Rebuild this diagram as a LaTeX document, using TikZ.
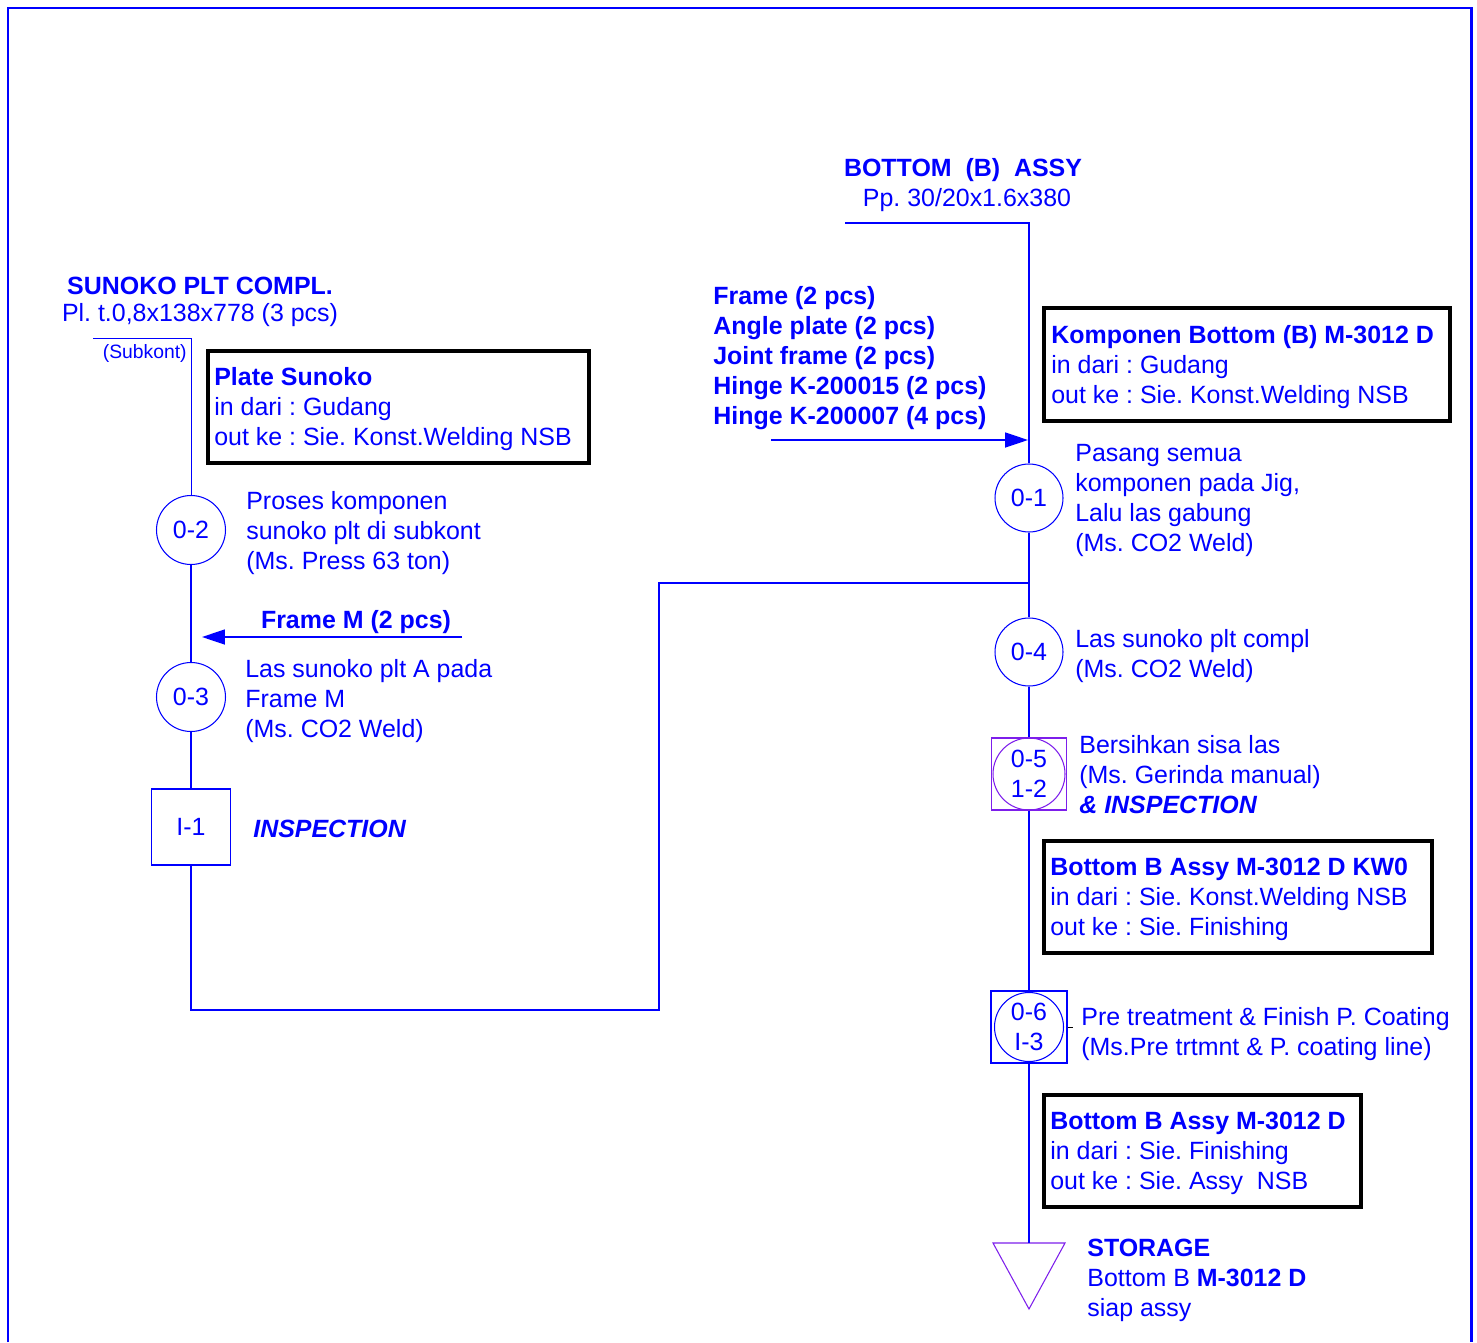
\documentclass[tikz,border=0pt]{standalone}
\usepackage{fontspec}
\setmainfont{Liberation Sans}
\usetikzlibrary{arrows.meta}
\definecolor{flowblue}{RGB}{0,0,255}
\definecolor{symviolet}{RGB}{125,30,235}
\frenchspacing

\begin{document}
\begin{tikzpicture}[x=0.02cm, y=-0.02cm,
  font=\fontsize{14.2}{17.07}\selectfont, text=flowblue,
  flow/.style={draw=flowblue, line width=0.6pt},
  feed/.style={draw=flowblue, line width=1pt, -{Triangle[length=0.46cm, width=0.3cm]}},
  opcircle/.style={circle, draw=flowblue, line width=0.6pt, minimum size=1.38cm, inner sep=0pt, align=center},
  inspbox/.style={rectangle, draw=flowblue, line width=0.8pt, inner sep=0pt},
  infobox/.style={rectangle, draw=black, line width=2.2pt, minimum height=2.24cm, anchor=north west, outer sep=0pt, inner sep=0pt},
  plain/.style={inner sep=0pt, yshift=-0.05cm},
  desc/.style={plain, anchor=west, align=left},
  heading/.style={plain, font=\fontsize{14.2}{17.07}\selectfont\bfseries}]
\def\xl{191}
\def\xr{1029}

\useasboundingbox (0,0) rectangle (1477,1342);
\draw[flowblue, line width=1.7pt] (8,1342) -- (8,8) -- (1471,8) -- (1471,1342);

% left branch: sunoko plate
\node[heading] (sunT) at (200,283) {SUNOKO PLT COMPL.};
\node[plain] (sunS) at (200,313) {Pl. t.0,8x138x778 (3 pcs)};
\node[plain, anchor=east, font=\fontsize{11}{12}\selectfont] (subkT) at (187,351) {(Subkont)};

\node[infobox, minimum width=7.62cm] (plateBox) at (208,351) {};
\node[desc] (plateT) at ([xshift=0.12cm]plateBox.west) {\textbf{Plate Sunoko}\\in dari : Gudang\\out ke : Sie. Konst.Welding NSB};

\node[opcircle] (op02) at (\xl,530) {0-2};
\node[desc] (d02) at (246,531) {Proses komponen\\sunoko plt di subkont\\(Ms. Press 63 ton)};

\node[heading] (fmT) at (356,620) {Frame M (2 pcs)};
\coordinate (fmStart) at (462,637);
\coordinate (fmEnd) at (202,637);

\node[opcircle] (op03) at (\xl,697) {0-3};
\node[desc] (d03) at (245,699) {Las sunoko plt A pada\\Frame M\\(Ms. CO2 Weld)};

\node[inspbox, minimum width=1.58cm, minimum height=1.52cm] (insp1) at (\xl,827) {I-1};
\node[desc, font=\fontsize{14.2}{17.07}\selectfont\bfseries\itshape] (i1T) at (253,826) {INSPECTION};

\coordinate (subk) at (93,338);
\coordinate (subkC) at (\xl,338);
\coordinate (loopB) at (\xl,1010);
\coordinate (loopT) at (659,583);
\coordinate (join) at (\xr,583);

\draw[flow, line width=0.4pt] (subk) -- (subkC) -- (op02);
\draw[flow] (op02) -- (op03);
\draw[flow] (op03) -- (insp1);
\draw[flow] (insp1) -- (loopB) -| (loopT) -- (join);
\draw[feed] (fmStart) -- (fmEnd);

% right branch: bottom assy
\node[heading] (botT) at (963,168) {BOTTOM\ \ (B)\ \ ASSY};
\node[plain] (botS) at (967,198) {Pp. 30/20x1.6x380};

\node[desc, font=\fontsize{14.2}{17.07}\selectfont\bfseries] (parts) at (713,355.5) {Frame (2 pcs)\\Angle plate (2 pcs)\\Joint frame (2 pcs)\\Hinge K-200015 (2 pcs)\\Hinge K-200007 (4 pcs)};
\coordinate (partStart) at (771,440);
\coordinate (partEnd) at (1028,440);

\node[infobox, minimum width=8.12cm, minimum height=2.26cm] (kompBox) at (1044,308) {};
\node[desc] (kompT) at ([xshift=0.14cm]kompBox.west) {\textbf{Komponen Bottom (B) M-3012 D}\\in dari : Gudang\\out ke : Sie. Konst.Welding NSB};

\node[opcircle, minimum size=1.36cm] (op01) at (\xr,498) {0-1};
\node[desc] (d01) at (1075,498) {Pasang semua\\komponen pada Jig,\\Lalu las gabung\\(Ms. CO2 Weld)};

\node[opcircle, minimum size=1.36cm] (op04) at (\xr,652) {0-4};
\node[desc] (d04) at (1075,654) {Las sunoko plt compl\\(Ms. CO2 Weld)};

\node[inspbox, draw=symviolet, line width=0.6pt, minimum width=1.5cm, minimum height=1.44cm] (op05) at (\xr,774) {};
\node[opcircle, draw=symviolet, minimum size=1.44cm] (op05c) at (op05.center) {0-5\\1-2};
\node[desc] (d05) at (1079,772) {Bersihkan sisa las\\(Ms. Gerinda manual)\\\textbf{\textit{\& INSPECTION}}};

\node[infobox, minimum width=7.76cm] (kw0Box) at (1044,841) {};
\node[desc] (kw0T) at ([xshift=0.12cm]kw0Box.west) {\textbf{Bottom B Assy M-3012 D KW0}\\in dari : Sie. Konst.Welding NSB\\out ke : Sie. Finishing};

\node[inspbox, minimum width=1.52cm, minimum height=1.44cm] (op06) at (\xr,1027) {};
\node[opcircle] (op06c) at (op06.center) {0-6\\I-3};
\draw[black, line width=0.4pt] (op06.east) -- ++(5,0);
\node[desc] (d06) at (1081,1032) {Pre treatment \& Finish P. Coating\\(Ms.Pre trtmnt \& P. coating line)};

\node[infobox, minimum width=6.34cm] (finBox) at (1044,1095) {};
\node[desc] (finT) at ([xshift=0.12cm]finBox.west) {\textbf{Bottom B Assy M-3012 D}\\in dari : Sie. Finishing\\out ke : Sie. Assy\ \ NSB};

\coordinate (stor) at (\xr,1243);
\draw[symviolet, line width=0.6pt] (stor) -- ++(-36,0) -- (\xr,1309) -- (1065,1243) -- cycle;
\node[desc] (storT) at (1087,1277.5) {\textbf{STORAGE}\\Bottom B \textbf{M-3012 D}\\siap assy};

\coordinate (btop) at (845,223);
\coordinate (btopC) at (\xr,223);
\draw[flow] (btop) -- (btopC) -- (op01);
\draw[flow] (op01) -- (op04);
\draw[flow] (op04) -- (op05);
\draw[flow] (op05) -- (op06);
\draw[flow] (op06) -- (stor);
\draw[feed] (partStart) -- (partEnd);
\end{tikzpicture}
\end{document}
